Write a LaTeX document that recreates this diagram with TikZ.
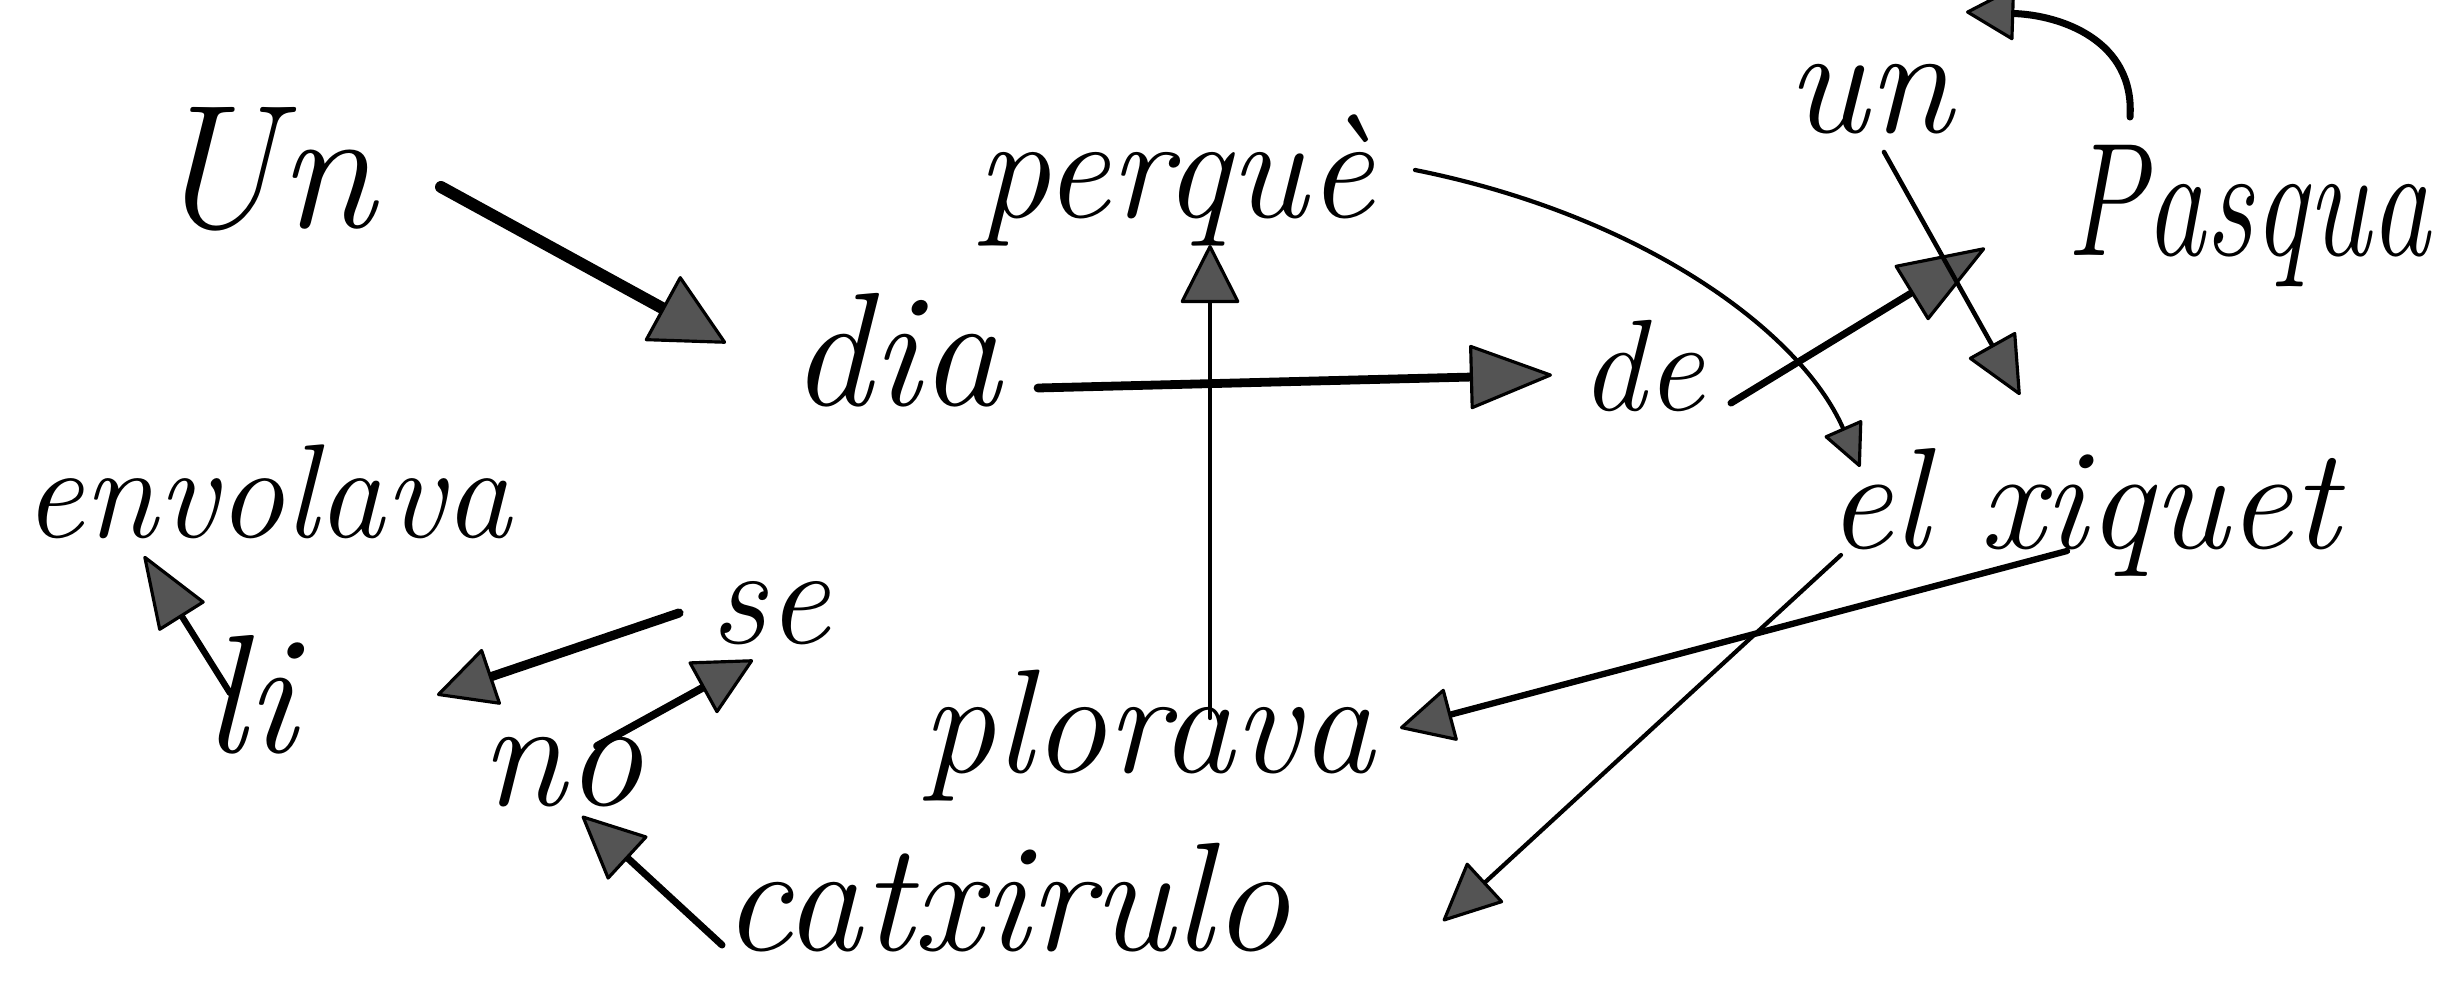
\documentclass[tikz,border=0pt]{standalone}
\usepackage{fontspec}
\usetikzlibrary{arrows.meta}
\definecolor{headgray}{gray}{0.33}
\tikzset{
  word/.style={anchor=base west, inner sep=0pt, text=black},
  ln/.style={draw=black, line cap=round, line join=round},
  hd/.style n args={2}{-{Triangle[length=#1, width=#2, fill=headgray, line width=0.9pt, round]}},
}
\newcommand{\fs}[1]{\fontsize{#1}{#1}\selectfont\itshape}
\begin{document}
\begin{tikzpicture}[x=0.01cm,y=-0.01cm]
\useasboundingbox (0,0) rectangle (2448,988);
% words
\node[word, font=\fs{50}] (Un) at (150,228) {Un};
\node[word, font=\fs{46}] (dia) at (790,405) {dia};
\node[word, font=\fs{42}] (perq) at (976,218) {perquè};
\node[word, font=\fs{37}] (de) at (1580,410) {de};
\node[word, font=\fs{44}] (un) at (1786,133) {un};
\node[word, font=\fs{34}] (Pasqua) at (2066,255) {\scalebox{1}[1.35]{Pasqua}};
\node[word, font=\fs{41}] (elx) at (1827,548) {el xiquet};
\node[word, font=\fs{38}] (envolava) at (23,537) {envolava};
\node[word, font=\fs{48}] (li) at (203,752) {li};
\node[word, font=\fs{40}] (se) at (710,643) {se};
\node[word, font=\fs{44}] (no) at (480,805) {no};
\node[word, font=\fs{42}] (plorava) at (921,772) {plorava};
\node[word, font=\fs{44}] (catx) at (722,950) {catxirulo};
\coordinate (unend) at (2020,395);
% connectors
\draw[ln, line width=3.4pt, hd={0.75cm}{0.75cm}] ([shift={(291,-41)}]Un.base west) -- ([shift={(-64,-62)}]dia.base west);
\draw[ln, line width=2.5pt, hd={0.85cm}{0.65cm}] ([shift={(248,-17)}]dia.base west) -- ([shift={(-28,-35)}]de.base west);
\draw[ln, line width=1.2pt, hd={0.6cm}{0.6cm}] ([shift={(289,-54)}]plorava.base west) -- ([shift={(234,27)}]perq.base west);
\draw[ln, line width=1.2pt, hd={0.45cm}{0.42cm}] ([shift={(439,-48)}]perq.base west) .. controls (1640,215) and (1800,330) .. ([shift={(33,-81)}]elx.base west);
\draw[ln, line width=2pt, hd={0.9cm}{0.65cm}] ([shift={(151,-7)}]de.base west) -- ([shift={(-81,-7)}]Pasqua.base west);
\draw[ln, line width=1.3pt, hd={0.6cm}{0.55cm}] ([shift={(98,19)}]un.base west) -- (unend);
\draw[ln, line width=2pt, hd={0.5cm}{0.55cm}] ([shift={(64,-138)}]Pasqua.base west) .. controls (2135,40) and (2060,15) .. ([shift={(180,-121)}]un.base west);
\draw[ln, line width=1.8pt, hd={0.55cm}{0.55cm}] ([shift={(240,3)}]elx.base west) -- ([shift={(479,-44)}]plorava.base west);
\draw[ln, line width=1.2pt, hd={0.6cm}{0.55cm}] ([shift={(14,7)}]elx.base west) -- ([shift={(721,-29)}]catx.base west);
\draw[ln, line width=2pt, hd={0.65cm}{0.6cm}] ([shift={(0,-5)}]catx.base west) -- ([shift={(102,11)}]no.base west);
\draw[ln, line width=2.2pt, hd={0.6cm}{0.6cm}] ([shift={(117,-59)}]no.base west) -- ([shift={(43,17)}]se.base west);
\draw[ln, line width=2.6pt, hd={0.6cm}{0.6cm}] ([shift={(-31,-30)}]se.base west) -- ([shift={(234,-57)}]li.base west);
\draw[ln, line width=1.8pt, hd={0.75cm}{0.55cm}] ([shift={(27,-59)}]li.base west) -- ([shift={(121,19)}]envolava.base west);
\end{tikzpicture}
\end{document}
